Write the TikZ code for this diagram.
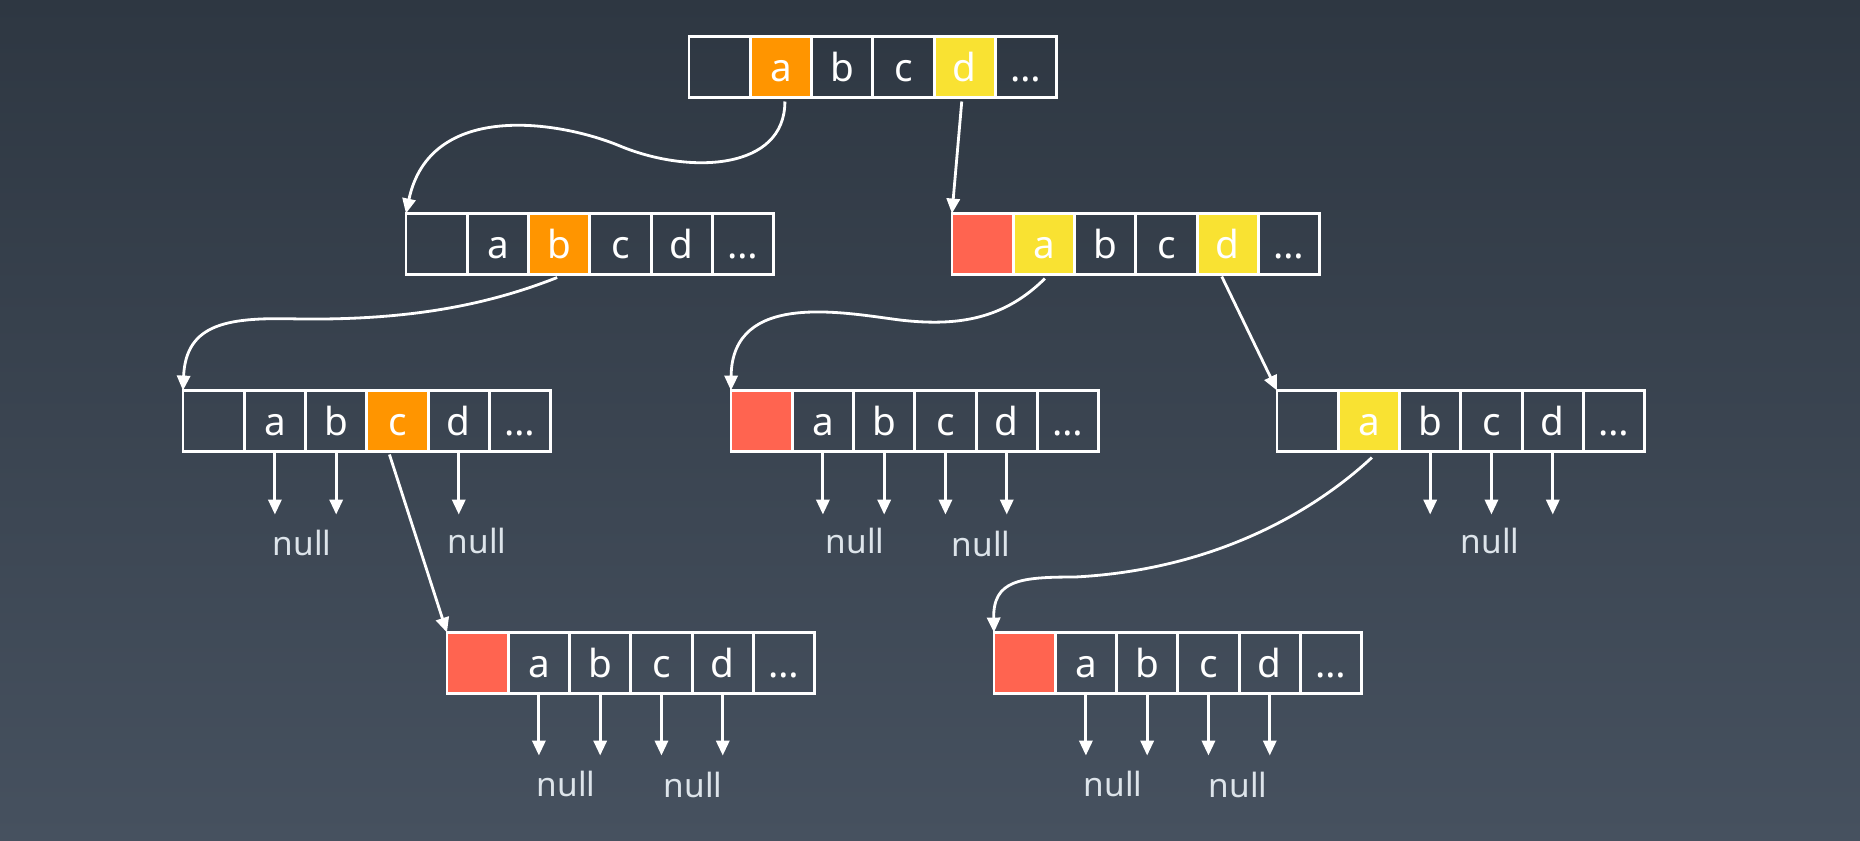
\documentclass[tikz,border=0pt]{standalone}
\usepackage{fontspec}
\setmainfont{Noto Sans}
\usetikzlibrary{arrows.meta, calc}
\definecolor{bgtop}{HTML}{2E3742}
\definecolor{bgbottom}{HTML}{46515F}
\definecolor{keyorange}{HTML}{FF9500}
\definecolor{keyyellow}{HTML}{F9E232}
\definecolor{keyred}{HTML}{FF6450}
\definecolor{nullgray}{HTML}{DDE4EA}

% one trie node: name, centre of first cell, fills of the six cells
\newcommand{\keyrow}[8]{%
  \foreach \ltr/\clr [count=\k from 0] in {{}/#3, a/#4, b/#5, c/#6, d/#7, \ldots/#8}
    \node[cell, fill=\clr, xshift=\k*1.226cm] (#1-\k) at (#2) {\ltr};
}
% empty children: row name, arrow length, cells
\newcommand{\nullarrows}[3]{%
  \foreach \k in {#3} {
    \coordinate (#1-\k-end) at ($(#1-\k.south)+(0,#2)$);
    \draw[ptr] (#1-\k.south) -- (#1-\k-end);
  }
}

\begin{document}
\begin{tikzpicture}[
    x=0.02cm, y=-0.02cm,
    cell/.style={draw=white, line width=1.6pt, minimum width=1.226cm, minimum height=1.22cm,
      inner sep=0pt, outer sep=0pt, text=white, font=\fontsize{22}{26}\selectfont,
      text height=16.7pt, text depth=0pt},
    ptr/.style={draw=white, line width=1.6pt, -{Triangle[length=8.5pt, width=7.5pt]}},
    nulltxt/.style={text=nullgray, font=\fontsize{19}{22}\selectfont, inner sep=0pt},
  ]
  % background
  \shade[top color=bgtop, bottom color=bgbottom] (0,0) rectangle (1860,840);

  % trie nodes
  \keyrow{r1}{719.6,67}{none}{keyorange}{none}{none}{keyyellow}{none}
  \keyrow{r2l}{436.6,244}{none}{none}{keyorange}{none}{none}{none}
  \keyrow{r2r}{982.6,244}{keyred}{keyyellow}{none}{none}{keyyellow}{none}
  \keyrow{r3l}{213.6,421}{none}{none}{none}{keyorange}{none}{none}
  \keyrow{r3m}{761.6,421}{keyred}{none}{none}{none}{none}{none}
  \keyrow{r3r}{1307.6,421}{none}{keyyellow}{none}{none}{none}{none}
  \keyrow{r4l}{477.6,663}{keyred}{none}{none}{none}{none}{none}
  \keyrow{r4r}{1024.6,663}{keyred}{none}{none}{none}{none}{none}

  % null children
  \nullarrows{r3l}{63}{1,2,4}
  \nullarrows{r3m}{63}{1,2,3,4}
  \nullarrows{r3r}{63}{2,3,4}
  \nullarrows{r4l}{62}{1,2,3,4}
  \nullarrows{r4r}{62}{1,2,3,4}

  \node[nulltxt] (n3l-1) at (302,543) {null};
  \node[nulltxt] (n3l-2) at (477,541) {null};
  \node[nulltxt] (n3m-1) at (855,541) {null};
  \node[nulltxt] (n3m-2) at (981,544) {null};
  \node[nulltxt] (n3r-1) at (1490,541) {null};
  \node[nulltxt] (n4l-1) at (566,784) {null};
  \node[nulltxt] (n4l-2) at (693,785) {null};
  \node[nulltxt] (n4r-1) at (1113,784) {null};
  \node[nulltxt] (n4r-2) at (1238,785) {null};

  % links
  \draw[ptr] ($(r1-1.south)+(4,4)$) .. controls (785,170) and (690,175) .. (620,146)
    .. controls (560,121) and (430,100) .. (r2l-0.north west);
  \draw[ptr] ($(r1-4.south)+(-3,4)$) -- (r2r-0.north west);
  \draw[ptr] ($(r2l-2.south)+(-2,3)$) .. controls (480,308) and (400,320) .. (300,319)
    .. controls (230,317) and (186,322) .. (r3l-0.north west);
  \draw[ptr] ($(r2r-1.south)+(1,4)$) .. controls (1005,318) and (960,327) .. (900,320)
    .. controls (845,313) and (732,290) .. (r3m-0.north west);
  \draw[ptr] ($(r2r-4.south)+(-6,2)$) -- (r3r-0.north west);
  \draw[ptr] ($(r3l-3.south)+(-8,3)$) -- (r4l-0.north west);
  \draw[ptr] ($(r3r-1.south)+(3,6)$) .. controls (1310,515) and (1210,570) .. (1075,577)
    .. controls (1020,577) and (993,580) .. (r4r-0.north west);
\end{tikzpicture}
\end{document}
